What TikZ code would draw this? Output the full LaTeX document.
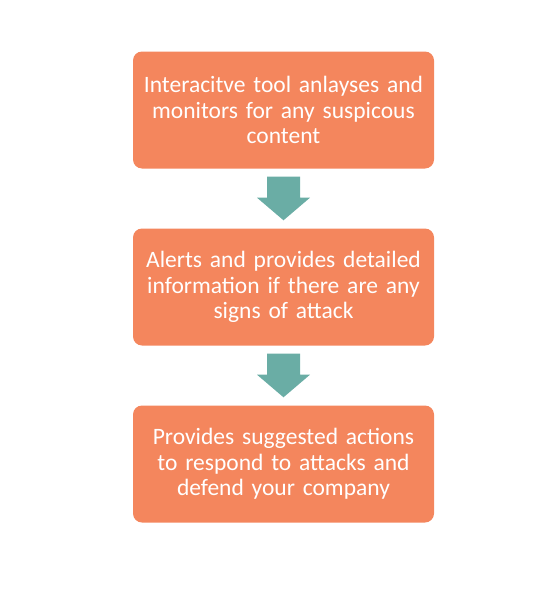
\documentclass[tikz,border=0pt]{standalone}
\usepackage{fontspec}
\setmainfont[WordSpace=0.6]{Carlito}
\usepackage{xcolor}
\usetikzlibrary{positioning, calc}
\definecolor{boxorange}{RGB}{244,134,93}
\definecolor{arrowteal}{RGB}{106,173,165}
\tikzset{
  stepbox/.style={rectangle, fill=boxorange, text=white, text width=299pt, align=center, minimum width=301pt, minimum height=117pt, rounded corners=9pt, inner sep=0pt, font=\fontsize{23.5}{25.5}\selectfont},
  flowarrow/.style={fill=arrowteal},
}

\begin{document}
\begin{tikzpicture}[x=1pt, y=-1pt]
  \useasboundingbox (0,0) rectangle (553,597);
  \node[stepbox] (watch) at (283.5,110) {Interacitve tool anlayses and\\monitors for any suspicous\\content};
  \node[stepbox] (alert) at (283.5,287) {Alerts and provides detailed\\information if there are any\\signs of attack};
  \node[stepbox] (respond) at (283.5,464) {Provides suggested actions\\to respond to attacks and\\defend your company};
  % block arrows between the steps
  \fill[flowarrow] ($(watch.south)+(-16.5,8)$) -- ++(33,0) -- ++(0,21) -- ++(10,0)
    -- ($(alert.north)+(0,-8)$) -- ($(watch.south)+(-26.5,29)$) -- ++(10,0) -- cycle;
  \fill[flowarrow] ($(alert.south)+(-16.5,8)$) -- ++(33,0) -- ++(0,21) -- ++(10,0)
    -- ($(respond.north)+(0,-8)$) -- ($(alert.south)+(-26.5,29)$) -- ++(10,0) -- cycle;
\end{tikzpicture}
\end{document}
